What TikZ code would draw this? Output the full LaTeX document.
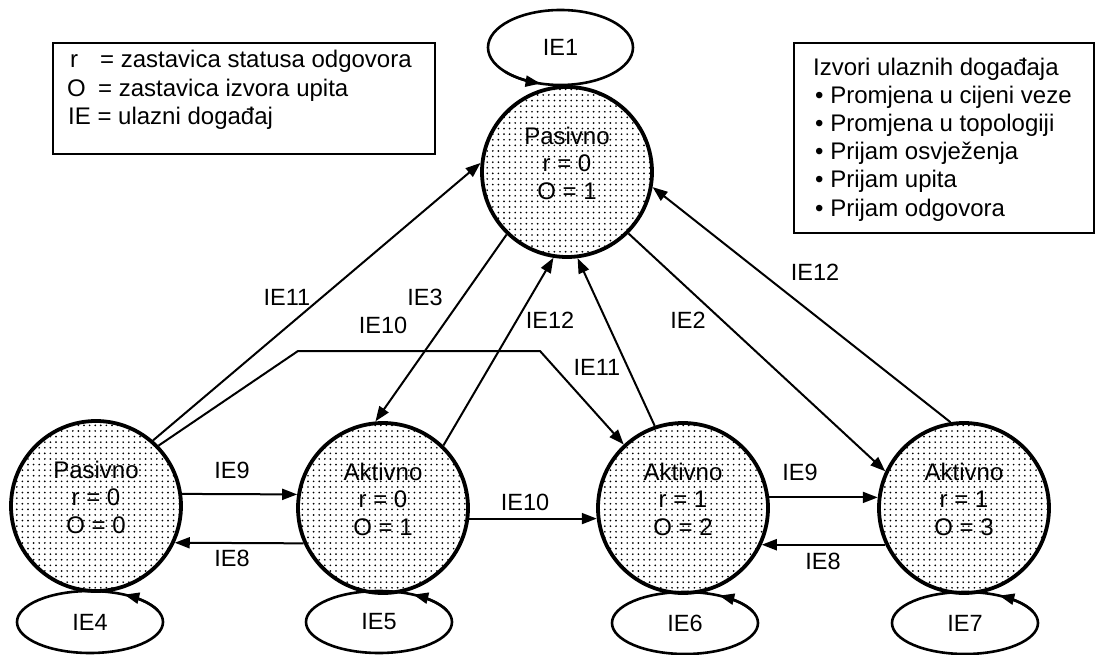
\documentclass[tikz,border=0pt]{standalone}
\usepackage{fontspec}
\setmainfont{Liberation Sans}
\usetikzlibrary{arrows.meta,shapes.geometric,patterns.meta,calc}
\begin{document}
\begin{tikzpicture}[x=1pt,y=-1pt,
  state/.style={circle, draw, line width=3.8pt, minimum size=170pt, inner sep=0pt,
    pattern={Dots[distance=5.6pt,radius=0.95pt]}, pattern color=black},
  statetxt/.style={align=center, font=\fontsize{24}{27.5}\selectfont, inner sep=0pt},
  loopell/.style={ellipse, draw, line width=2.6pt, inner sep=0pt, font=\fontsize{23.5}{27}\selectfont},
  conn/.style={line width=2pt, -{Triangle[length=15pt,width=11pt]}},
  looptip/.style={line width=2.6pt, -{Triangle[length=15pt,width=11pt]}},
  lbl/.style={font=\fontsize{23.5}{27}\selectfont, inner sep=0pt},
  legbox/.style={draw, line width=2.2pt, inner sep=0pt, anchor=north west},
  legtxt/.style={font=\fontsize{24}{28}\selectfont, inner sep=0pt, anchor=base west},
]
\useasboundingbox (0,0) rectangle (1095,655);

% states
\node[state] (A) at (96,506) {};
\node[state] (B) at (383,508) {};
\node[state] (C) at (683,508) {};
\node[state] (D) at (964,508) {};
\node[state] (T) at (567,172) {};

\node[statetxt] (Atx) at (96,497) {Pasivno\\r = 0\\O = 0};
\node[statetxt] (Btx) at (383,499) {Aktivno\\r = 0\\O = 1};
\node[statetxt] (Ctx) at (683,499) {Aktivno\\r = 1\\O = 2};
\node[statetxt] (Dtx) at (964,499) {Aktivno\\r = 1\\O = 3};
\node[statetxt] (Ttx) at (567,163) {Pasivno\\r = 0\\O = 1};

% self loops
\node[loopell, minimum width=145pt, minimum height=75pt] (E1) at (560.5,47.5) {IE1};
\node[loopell, minimum width=146pt, minimum height=62pt] (E4) at (90,622) {IE4};
\node[loopell, minimum width=146pt, minimum height=62pt] (E5) at (379,622) {IE5};
\node[loopell, minimum width=146pt, minimum height=62pt] (E6) at (685,623) {IE6};
\node[loopell, minimum width=146pt, minimum height=62pt] (E7) at (965,623) {IE7};

\draw[looptip] plot[domain=140:106, samples=12] ({560.5+72.5*cos(\x)},{47.5+37.5*sin(\x)});
\draw[looptip] plot[domain=-22:-62, samples=12] ({90+73*cos(\x)},{622+31*sin(\x)});
\draw[looptip] plot[domain=-22:-62, samples=12] ({379+73*cos(\x)},{622+31*sin(\x)});
\draw[looptip] plot[domain=-22:-62, samples=12] ({685+73*cos(\x)},{623+31*sin(\x)});
\draw[looptip] plot[domain=-22:-62, samples=12] ({965+73*cos(\x)},{623+31*sin(\x)});

% connectors
\coordinate (b1) at (298,351);
\coordinate (b2) at (540,351);
\draw[conn] (A.49) -- (T.174);
\draw[conn] (A.44) -- (b1) -- (b2) -- (C.133);
\draw[conn] (T.226) -- (B.95);
\draw[conn] (B.46) -- (T.261);
\draw[conn] (C.109) -- (T.277);
\draw[conn] (T.315) -- (D.155);
\draw[conn] (D.99) -- (T.350);
\draw[conn] (A.8) -- (B.171);
\draw[conn] (B.204) -- (A.335);
\draw[conn] (B.353) -- (C.187);
\draw[conn] (C.7) -- (D.173);
\draw[conn] (D.205) -- (C.335);

% labels
\node[lbl] (l11a) at (287,297) {IE11};
\node[lbl] (l3) at (425,297) {IE3};
\node[lbl] (l10a) at (383,325) {IE10};
\node[lbl] (l12a) at (550,320) {IE12};
\node[lbl] (l2) at (688,320) {IE2};
\node[lbl] (l11b) at (597,367) {IE11};
\node[lbl] (l12b) at (815,272) {IE12};
\node[lbl] (l10b) at (525,502) {IE10};
\node[lbl] (l9a) at (232,470) {IE9};
\node[lbl] (l8a) at (232,558) {IE8};
\node[lbl] (l9b) at (800,472) {IE9};
\node[lbl] (l8b) at (823,561) {IE8};

% legends
\node[legbox, minimum width=382pt, minimum height=111pt] (K1) at (52,42) {};
\node[legtxt] (K1a) at (70,68) {\makebox[30pt][l]{r}= zastavica statusa odgovora};
\node[legtxt] (K1b) at (67,96.5) {\makebox[31pt][l]{O}= zastavica izvora upita};
\node[legtxt] (K1c) at (68,125) {IE = ulazni događaj};

\node[legbox, minimum width=300pt, minimum height=190pt] (K2) at (793,42) {};
\node[legtxt] (K2a) at (813,76) {Izvori ulaznih događaja};
\node[legtxt] (K2b) at (815,104) {• Promjena u cijeni veze};
\node[legtxt] (K2c) at (815,132) {• Promjena u topologiji};
\node[legtxt] (K2d) at (815,160) {• Prijam osvježenja};
\node[legtxt] (K2e) at (815,188) {• Prijam upita};
\node[legtxt] (K2f) at (815,216.5) {• Prijam odgovora};
\end{tikzpicture}
\end{document}
